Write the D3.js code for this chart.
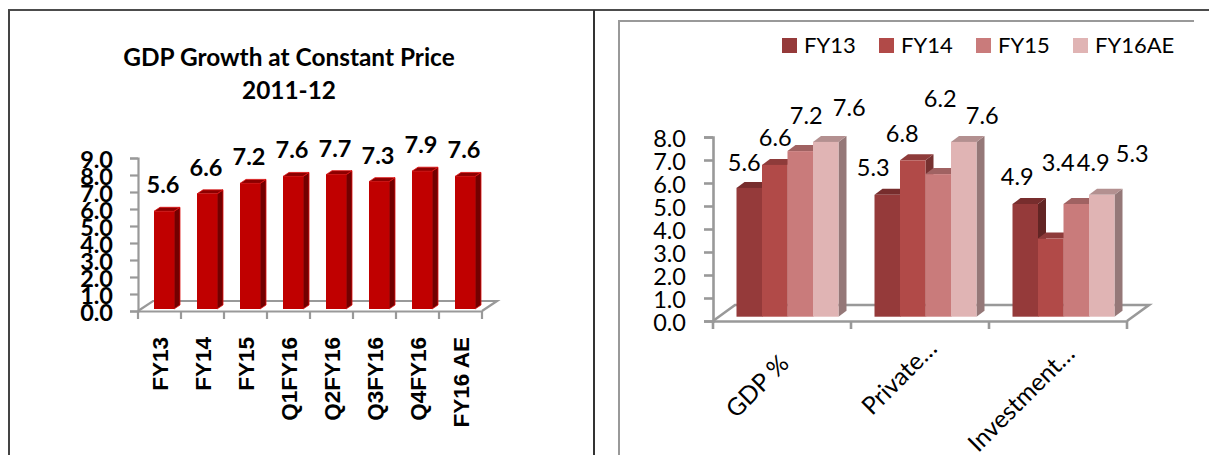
<!DOCTYPE html>
<html>
<head>
<meta charset="utf-8">
<script src="https://d3js.org/d3.v7.min.js"></script>
<style>
    body{ margin:0; background:#fff; }
    svg{ display:block; }
    text{ font-family:Lato, "Noto Sans", sans-serif; fill:#000; }
    .axis path, .axis line, .floor{ stroke:#999; fill:none; }
    .axis text{ fill:#000; }
</style>
</head>
<body>
<script>
    // left chart
    const growthCategories = ["FY13", "FY14", "FY15", "Q1FY16", "Q2FY16", "Q3FY16", "Q4FY16", "FY16 AE"];
    const growthValues = [5.6, 6.6, 7.2, 7.6, 7.7, 7.3, 7.9, 7.6];

    // right chart
    const sectorCategories = ["GDP %", "Private...", "Investment..."];
    const seriesNames = ["FY13", "FY14", "FY15", "FY16AE"];
    const seriesValues = [
        [5.6, 5.3, 4.9],
        [6.6, 6.8, 3.4],
        [7.2, 6.2, 4.9],
        [7.6, 7.6, 5.3]
    ];

    // colours per series: front, top, side
    const seriesColors = [
        ["#953a3a", "#772d2d", "#622524"],
        ["#b14a48", "#8e3b3a", "#763130"],
        ["#c97b7b", "#a06262", "#8a5454"],
        ["#e0b4b4", "#b39090", "#957878"]
    ];

    // the labels in the right chart were moved by hand in the original
    const labelNudge = [
        [[-5, -25], [-14, -27], [-8, -27]],
        [[0.5, -27], [-10.5, -27], [7.5, -75.5]],
        [[6, -36], [2, -76], [17, -41]],
        [[23.5, -34], [18.5, -26], [30.5, -41]]
    ];
    const sectorLabelShift = [[-25, 65], [-21, 56], [-37, 77]];

    let svg = d3.select("body").append("svg")
        .attr("width", 1209)
        .attr("height", 455);

    // table lines around the two charts
    function rule(x1, y1, x2, y2, color, w){
        svg.append("line").attr("x1", x1).attr("y1", y1).attr("x2", x2).attr("y2", y2)
            .attr("stroke", color).attr("stroke-width", w);
    }
    rule(8, 10, 1209, 10, "#111", 1.5);
    rule(9, 10, 9, 455, "#444", 2);
    rule(594, 10, 594, 455, "#333", 2);
    rule(618, 21, 1194, 21, "#999", 2);
    rule(619, 20, 619, 455, "#999", 2);

    // box with a front, a top and a side
    function drawBar(g, x, y, w, base, dx, dy, front, top, side, edge){
        g.append("path")
            .attr("d", `M${x + w},${y}L${x + w + dx},${y - dy}L${x + w + dx},${base - dy}L${x + w},${base}Z`)
            .attr("fill", side).attr("stroke", edge || "none").attr("stroke-width", 0.8);
        g.append("path")
            .attr("d", `M${x},${y}L${x + dx},${y - dy}L${x + w + dx},${y - dy}L${x + w},${y}Z`)
            .attr("fill", top).attr("stroke", edge || "none").attr("stroke-width", 0.8);
        g.append("rect")
            .attr("x", x).attr("y", y).attr("width", w).attr("height", base - y)
            .attr("fill", front);
    }

    function drawFrame(xBand, yAxisScale, depthX, depthY, tickLen, lineWidth){
        let left = xBand.range()[0], right = xBand.range()[1], base = yAxisScale.range()[0];
        svg.append("path").attr("class", "floor")
            .attr("stroke-width", lineWidth)
            .attr("d", `M${left},${base}L${left + depthX},${base - depthY}L${right + depthX},${base - depthY}L${right},${base}`);
        let edges = xBand.domain().map(c => xBand(c)).concat(right);
        svg.selectAll(null).data(edges).enter().append("line")
            .attr("x1", d => d).attr("x2", d => d)
            .attr("y1", base).attr("y2", base + tickLen)
            .attr("stroke", "#999").attr("stroke-width", lineWidth);
    }

    /* ---------- left chart ---------- */
    let title = svg.append("text")
        .attr("text-anchor", "middle")
        .style("font-weight", 700)
        .style("font-size", "24.4px");
    title.append("tspan").attr("x", 289).attr("y", 66).text("GDP Growth at Constant Price");
    title.append("tspan").attr("x", 289).attr("y", 99).text("2011-12");

    let growthX = d3.scaleBand().domain(growthCategories).range([138, 482]);
    let growthAxisY = d3.scaleLinear().domain([0, 9]).range([311, 158]);
    let growthBarY = d3.scaleLinear().domain([0, 9]).range([309, 152]);

    drawFrame(growthX, growthAxisY, 15, 10, 8, 2.2);

    let growthAxis = svg.append("g").attr("class", "axis")
        .attr("transform", "translate(138,0)")
        .call(d3.axisLeft(growthAxisY).ticks(9).tickFormat(d3.format(".1f")).tickSize(8).tickSizeOuter(8).tickPadding(17));
    growthAxis.selectAll("path,line").attr("stroke", "#999").attr("stroke-width", 2.2);
    growthAxis.selectAll("text").attr("dy", "0.42em")
        .style("font-family", "Lato, sans-serif").style("font-size", "23.5px").style("font-weight", 700);

    let growthBase = svg.append("g").attr("class", "axis")
        .attr("transform", "translate(0,311)")
        .call(d3.axisBottom(growthX).tickSize(0).tickSizeOuter(0));
    growthBase.select("path").attr("stroke", "#999").attr("stroke-width", 2.2);
    growthBase.selectAll("text")
        .attr("transform", "translate(0,26) rotate(-90)")
        .attr("x", 0).attr("y", 0).attr("dy", "0.36em")
        .attr("text-anchor", "end")
        .style("font-family", "'Liberation Sans', sans-serif").style("font-size", "22.5px").style("font-weight", 700);

    let growthBars = svg.append("g");
    growthCategories.forEach(function(c, i){
        let w = 20, x = growthX(c) + growthX.bandwidth() / 2 + 4.5 - w / 2;
        drawBar(growthBars, x, growthBarY(growthValues[i]), w, growthBarY(0), 6, 4, "#c00000", "#8c0000", "#730000", "#e01010");
        svg.append("text")
            .attr("x", growthX(c) + growthX.bandwidth() / 2 + 3.5)
            .attr("y", growthBarY(growthValues[i]) - 26 + 8)
            .attr("text-anchor", "middle")
            .style("font-size", "23.5px").style("font-weight", 700)
            .text(d3.format(".1f")(growthValues[i]));
    });

    /* ---------- right chart ---------- */
    let sectorX = d3.scaleBand().domain(sectorCategories).range([713, 1127]);
    let sectorAxisY = d3.scaleLinear().domain([0, 8]).range([321, 137]);
    let sectorBarY = d3.scaleLinear().domain([0, 8]).range([316.7, 132.7]);
    let seriesX = d3.scaleBand().domain(seriesNames).range([0, 102]);

    drawFrame(sectorX, sectorAxisY, 22, 16, 8, 2.6);

    let sectorAxis = svg.append("g").attr("class", "axis")
        .attr("transform", "translate(713,0)")
        .call(d3.axisLeft(sectorAxisY).ticks(8).tickFormat(d3.format(".1f")).tickSize(9).tickSizeOuter(9).tickPadding(18));
    sectorAxis.selectAll("path,line").attr("stroke", "#999").attr("stroke-width", 2.6);
    sectorAxis.selectAll("text").attr("dy", "0.42em")
        .style("font-family", "Lato, sans-serif").style("font-size", "23.5px");

    let sectorBase = svg.append("g").attr("class", "axis")
        .attr("transform", "translate(0,321)")
        .call(d3.axisBottom(sectorX).tickSize(0).tickSizeOuter(0).tickFormat(d => d.replace("...", "…")));
    sectorBase.select("path").attr("stroke", "#999").attr("stroke-width", 2.6);
    sectorBase.selectAll("text")
        .attr("transform", (d, i) => `translate(${sectorLabelShift[i][0]},${sectorLabelShift[i][1]}) rotate(-45)`)
        .attr("x", 0).attr("y", 0).attr("dy", "0.36em")
        .attr("text-anchor", "middle")
        .style("font-family", "Lato, sans-serif").style("font-size", "24.5px");

    let sectorBars = svg.append("g");
    sectorCategories.forEach(function(c, i){
        let groupLeft = sectorX(c) + sectorX.bandwidth() / 2 + 5.5 - 51;
        seriesNames.forEach(function(s, j){
            let v = seriesValues[j][i];
            let colors = seriesColors[j];
            drawBar(sectorBars, groupLeft + seriesX(s), sectorBarY(v), seriesX.bandwidth(), sectorBarY(0), 8, 6, colors[0], colors[1], colors[2]);
            svg.append("text")
                .attr("x", groupLeft + seriesX(s) + seriesX.bandwidth() / 2 + labelNudge[j][i][0])
                .attr("y", sectorBarY(v) + labelNudge[j][i][1])
                .attr("dy", "0.36em")
                .attr("text-anchor", "middle")
                .style("font-size", "23.5px")
                .text(d3.format(".1f")(v));
        });
    });

    // legend
    let legendX = d3.scalePoint().domain(seriesNames).range([782, 1073]);
    let legend = svg.selectAll(".legend").data(seriesNames).enter().append("g")
        .attr("class", "legend")
        .attr("transform", d => `translate(${legendX(d)},38)`);
    legend.append("rect").attr("width", 15).attr("height", 15)
        .attr("fill", (d, i) => seriesColors[i][0]);
    legend.append("text").attr("x", 22).attr("y", 15)
        .style("font-size", "22px")
        .text(d => d);
</script>
</body>
</html>
